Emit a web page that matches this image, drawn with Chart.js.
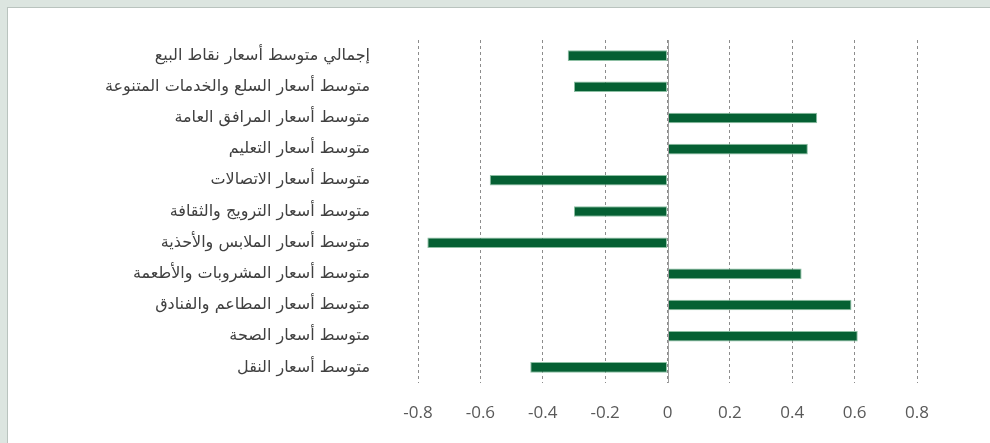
<!DOCTYPE html>
<html lang="ar">
<head>
<meta charset="UTF-8">
<title>متوسط الأسعار</title>
<style>
    html, body { margin: 0; padding: 0; }
    body { width: 990px; height: 443px; background: #dce5e0; position: relative; overflow: hidden; }
    .panel {
        position: absolute; left: 7px; top: 7px; right: 0; bottom: 0;
        background: #fff; border-left: 1px solid #b9c3be; border-top: 1px solid #b9c3be;
    }
    .chart-box { position: absolute; left: 0; top: 0; width: 990px; height: 443px; }
</style>
</head>
<body>
<div class="panel"></div>
<div class="chart-box">
    <canvas id="priceChart" width="990" height="443"></canvas>
</div>

<script src="https://cdn.jsdelivr.net/npm/chart.js@4/dist/chart.umd.min.js"></script>
<script>
    var categories = [
        'إجمالي متوسط أسعار نقاط البيع',
        'متوسط أسعار السلع والخدمات المتنوعة',
        'متوسط أسعار المرافق العامة',
        'متوسط أسعار التعليم',
        'متوسط أسعار الاتصالات',
        'متوسط أسعار الترويج والثقافة',
        'متوسط أسعار الملابس والأحذية',
        'متوسط أسعار المشروبات والأطعمة',
        'متوسط أسعار المطاعم والفنادق',
        'متوسط أسعار الصحة',
        'متوسط أسعار النقل'
    ];
    var changeValues = [-0.32, -0.30, 0.48, 0.45, -0.57, -0.30, -0.77, 0.43, 0.59, 0.61, -0.44];
    var xTicks = [-0.8, -0.6, -0.4, -0.2, 0, 0.2, 0.4, 0.6, 0.8];

    // solid line at x = 0 over the dashed grid
    var zeroLine = {
        id: 'zeroLine',
        afterDatasetsDraw: function (chart) {
            var x = Math.round(chart.scales.x.getPixelForValue(0)) + 0.5;
            var c = chart.ctx;
            c.save();
            c.strokeStyle = '#a0a0a0';
            c.lineWidth = 1;
            c.beginPath();
            c.moveTo(x, chart.chartArea.top);
            c.lineTo(x, chart.chartArea.bottom);
            c.stroke();
            c.restore();
        }
    };

    var ctx = document.getElementById('priceChart').getContext('2d');
    var priceChart = new Chart(ctx, {
        type: 'bar',
        data: {
            labels: categories,
            datasets: [{
                data: changeValues,
                backgroundColor: '#056033',
                borderColor: '#8dbfa3',
                borderWidth: 1,
                borderSkipped: false,
                categoryPercentage: 1,
                barPercentage: 0.34
            }]
        },
        options: {
            indexAxis: 'y',
            responsive: false,
            animation: false,
            layout: { padding: { top: 40, right: 73, bottom: 0, left: 0 } },
            plugins: {
                legend: { display: false },
                tooltip: { enabled: false }
            },
            scales: {
                x: {
                    min: -0.8,
                    max: 0.8,
                    afterBuildTicks: function (scale) {
                        scale.ticks = xTicks.map(function (v) { return { value: v }; });
                    },
                    afterFit: function (scale) { scale.height = 60; },
                    grid: {
                        color: '#8c8c8c',
                        lineWidth: 1,
                        drawTicks: false
                    },
                    border: { display: false, dash: [3, 3] },
                    ticks: {
                        padding: 20,
                        color: '#595959',
                        font: { family: 'Open Sans', size: 17 },
                        callback: function (v) { return String(Math.round(v * 10) / 10); }
                    }
                },
                y: {
                    afterFit: function (scale) {
                        scale.width = 418;
                        // tick padding only sets the gap to the labels, not the top/bottom inset
                        scale.paddingTop = 0;
                        scale.paddingBottom = 0;
                    },
                    grid: { display: false, drawTicks: false },
                    border: { display: false },
                    ticks: {
                        padding: 48,
                        color: '#404040',
                        font: { family: 'DejaVu Sans', size: 16 }
                    }
                }
            }
        },
        plugins: [zeroLine]
    });
</script>
</body>
</html>
